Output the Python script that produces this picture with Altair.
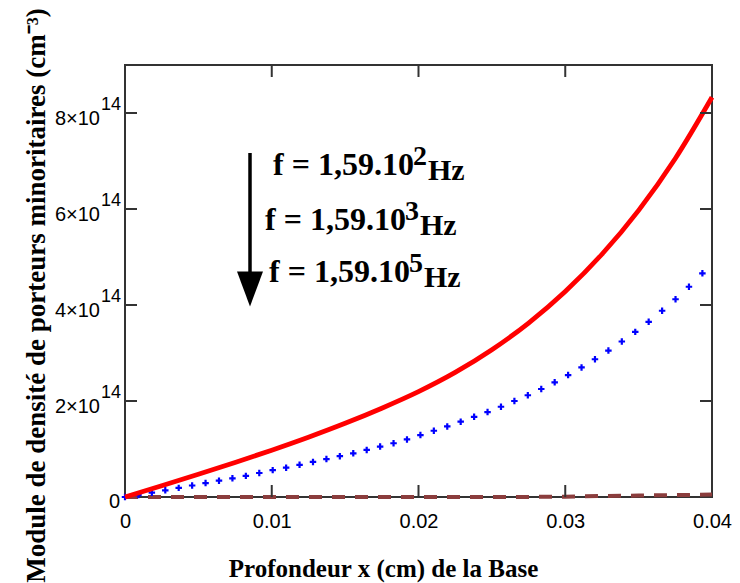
import altair as alt
import pandas as pd

# Depth x (cm) and carrier density modulus (units of 1e14 cm^-3)
red_x = [0, 0.0025, 0.005, 0.0075, 0.01, 0.0125, 0.015, 0.0175, 0.02, 0.0225,
         0.025, 0.0275, 0.03, 0.0325, 0.035, 0.0375, 0.04]
red_n = [0, 0.235, 0.475, 0.72, 0.975, 1.245, 1.535, 1.85, 2.195, 2.595,
         3.067, 3.624, 4.281, 5.057, 5.972, 7.052, 8.327]

blue_x = [0, 0.000915, 0.00183, 0.002745, 0.00366, 0.004575, 0.00549, 0.006405,
          0.00732, 0.008235, 0.00915, 0.010065, 0.01098, 0.011895, 0.01281,
          0.013725, 0.01464, 0.015555, 0.01647, 0.017385, 0.0183, 0.019215,
          0.02013, 0.021045, 0.02196, 0.022875, 0.02379, 0.024705, 0.02562,
          0.026535, 0.02745, 0.028365, 0.02928, 0.030195, 0.03111, 0.032025,
          0.03294, 0.033855, 0.03477, 0.035685, 0.0366, 0.037515, 0.03843, 0.039345]
blue_n = [0, 0.04, 0.09, 0.14, 0.19, 0.24, 0.29, 0.34, 0.39, 0.44, 0.50, 0.56,
          0.61, 0.67, 0.73, 0.79, 0.85, 0.91, 0.98, 1.05, 1.12, 1.20, 1.29, 1.38,
          1.47, 1.57, 1.67, 1.77, 1.88, 2.00, 2.12, 2.25, 2.39, 2.54, 2.70, 2.87,
          3.05, 3.24, 3.44, 3.65, 3.88, 4.12, 4.38, 4.66]

brown_x = [0, 0.005, 0.01, 0.015, 0.02, 0.025, 0.03, 0.0325, 0.035, 0.0375, 0.04]
brown_n = [0, 0, 0, 0, 0, 0, 0.005, 0.02, 0.03, 0.04, 0.05]

x_tick_values = [0.01, 0.02, 0.03]
x_label_values = [0, 0.01, 0.02, 0.03, 0.04]
y_tick_values = [2, 4, 6, 8]
y_tick_main = ["2×10", "4×10", "6×10", "8×10"]
y_tick_exp = ["14", "14", "14", "14"]

# annotation (data units)
ann_x = [0.010085, 0.00954, 0.009813]
ann_main_n = [6.708, 5.5625, 4.479]
ann_sup_n = [6.917, 5.771, 4.6875]
ann_hz_n = [6.604, 5.458, 4.375]
ann_main = ["f = 1,59.10", "f = 1,59.10", "f = 1,59.10"]
ann_sup = ["2", "3", "5"]
ann_hz = ["Hz", "Hz", "Hz"]
arrow_x = [0.008518]
arrow_top = [7.167]
arrow_bottom = [4.521]
arrow_head = [4.333]

E = 1e14
W, H = 587, 432

red = pd.DataFrame({"x": red_x, "n": [v * E for v in red_n]})
blue = pd.DataFrame({"x": blue_x, "n": [v * E for v in blue_n]})
brown = pd.DataFrame({"x": brown_x, "n": [v * E for v in brown_n]})
xt = pd.DataFrame({"x": x_tick_values})
yt = pd.DataFrame({"n": [v * E for v in y_tick_values], "main": y_tick_main, "exp": y_tick_exp})
zero = pd.DataFrame({"n": [0], "t": ["0"]})
ann1 = pd.DataFrame({"x": ann_x, "n": [v * E for v in ann_main_n], "t": ann_main})
ann2 = pd.DataFrame({"x": ann_x, "n": [v * E for v in ann_sup_n], "t": ann_sup})
ann3 = pd.DataFrame({"x": ann_x, "n": [v * E for v in ann_hz_n], "t": ann_hz})
arr = pd.DataFrame({"x": arrow_x, "n": [v * E for v in arrow_top], "n2": [v * E for v in arrow_bottom],
                    "h": [v * E for v in arrow_head]})

xs = alt.Scale(domain=[0, 0.04], nice=False, zero=False)
ys = alt.Scale(domain=[0, 9e14], nice=False)

x_axis = alt.Axis(values=x_label_values, format="~g", ticks=False, domain=False, grid=False,
                  labelFont="Liberation Sans", labelFontSize=20, labelColor="black",
                  labelPadding=14, labelFlush=False, labelOverlap=False,
                  title="Profondeur x (cm) de la Base", titleFont="Liberation Serif",
                  titleFontSize=25, titleFontWeight="bold", titleColor="black",
                  titleX=258, titleY=79, titleBaseline="alphabetic", titleAlign="center")
y_axis = alt.Axis(labels=False, ticks=False, domain=False, grid=False,
                  title="Module de densité de porteurs minoritaires (cm⁻³)",
                  titleFont="Liberation Serif", titleFontSize=27, titleFontWeight="bold",
                  titleColor="black", titleX=-81, titleY=230, titleAngle=270,
                  titleBaseline="alphabetic", titleAlign="center")

X = alt.X("x:Q", scale=xs)
Y = alt.Y("n:Q", scale=ys)

brown_l = alt.Chart(brown).mark_line(color="#8b3d3d", strokeWidth=4, strokeDash=[13, 10]).encode(
    x=alt.X("x:Q", scale=xs, axis=x_axis), y=alt.Y("n:Q", scale=ys, axis=y_axis))
blue_l = alt.Chart(blue).mark_point(shape="M-1,0L1,0M0,-1L0,1", size=42, filled=False,
                                    color="#0000ff", strokeWidth=2.2, opacity=1).encode(x=X, y=Y)
red_l = alt.Chart(red).mark_line(color="#ff0000", strokeWidth=4.8, interpolate="monotone").encode(x=X, y=Y)

tick_style = dict(color="#333333", strokeWidth=2)
xt_bot = alt.Chart(xt).mark_rule(**tick_style).encode(x=X, y=alt.value(H), y2=alt.value(H - 12))
xt_top = alt.Chart(xt).mark_rule(**tick_style).encode(x=X, y=alt.value(0), y2=alt.value(12))
yt_left = alt.Chart(yt).mark_rule(**tick_style).encode(y=Y, x=alt.value(0), x2=alt.value(12))
yt_right = alt.Chart(yt).mark_rule(**tick_style).encode(y=Y, x=alt.value(W - 12), x2=alt.value(W))

lab_style = dict(font="Liberation Sans", color="black", baseline="alphabetic")
yl_main = alt.Chart(yt).mark_text(align="right", dy=12, fontSize=20, **lab_style).encode(
    y=Y, x=alt.value(-25), text="main:N")
yl_exp = alt.Chart(yt).mark_text(align="left", dy=-3, fontSize=18, **lab_style).encode(
    y=Y, x=alt.value(-24), text="exp:N")
yl_zero = alt.Chart(zero).mark_text(align="right", dy=11, fontSize=20, **lab_style).encode(
    y=Y, x=alt.value(-5), text="t:N")

af = dict(font="Liberation Serif", fontWeight="bold", color="black", baseline="alphabetic", align="left")
a_main = alt.Chart(ann1).mark_text(fontSize=32, **af).encode(x=X, y=Y, text="t:N")
a_sup = alt.Chart(ann2).mark_text(fontSize=28, dx=140, **af).encode(x=X, y=Y, text="t:N")
a_hz = alt.Chart(ann3).mark_text(fontSize=30, dx=155, **af).encode(x=X, y=Y, text="t:N")
shaft = alt.Chart(arr).mark_rule(color="black", strokeWidth=3.5).encode(
    x=X, y=Y, y2="n2:Q")
head = alt.Chart(arr).mark_point(shape="M-1,-1.35L1,-1.35L0,1.35Z", size=676, filled=True,
                                 color="black", opacity=1, strokeWidth=0).encode(
    x=X, y=alt.Y("h:Q", scale=ys))

chart = alt.layer(
    brown_l, blue_l, red_l, xt_bot, xt_top, yt_left, yt_right,
    yl_main, yl_exp, yl_zero, a_main, a_sup, a_hz, shaft, head
).properties(
    width=W, height=H,
    autosize=alt.AutoSizeParams(type="none"),
    padding={"left": 125, "top": 65, "right": 28, "bottom": 86},
    background="white",
).configure_view(stroke="#333333", strokeWidth=2)

chart.save("out.html", embed_options={"renderer": "svg", "actions": False})
